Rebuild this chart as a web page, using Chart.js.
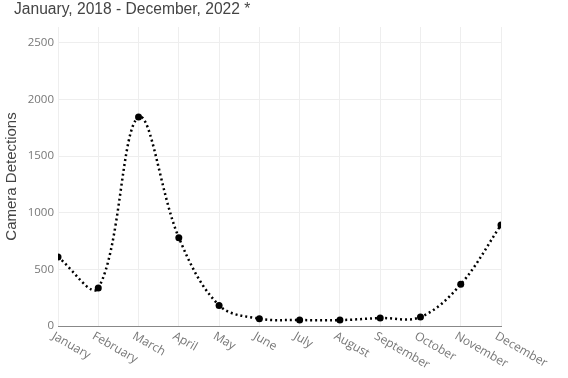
<!DOCTYPE html>
<html>
<head>
<meta charset="utf-8">
<script src="https://cdn.jsdelivr.net/npm/chart.js@4.4.1/dist/chart.umd.min.js"></script>
<style>
    html, body { margin: 0; padding: 0; background: #fff; }
    #wrap { width: 568px; height: 378px; }
</style>
</head>
<body>
<div id="wrap"><canvas id="chart_detections"></canvas></div>
<script>
const months = ['January', 'February', 'March', 'April', 'May', 'June', 'July', 'August', 'September', 'October', 'November', 'December'];
const detections = [610, 335, 1845, 780, 182, 65, 53, 52, 70, 79, 368, 892];
const yTicks = [0, 500, 1000, 1500, 2000, 2500];
const titleText = 'January, 2018 - December, 2022 *';
const yTitle = 'Camera Detections';

// draws the page title and the slanted month labels
const extraText = {
    id: 'extraText',
    afterDraw(chart) {
        const ctx = chart.ctx;
        const xScale = chart.scales.x;
        ctx.save();
        ctx.fillStyle = '#444';
        ctx.font = '15.6px "Liberation Sans", Arial, sans-serif';
        ctx.textAlign = 'left';
        ctx.textBaseline = 'middle';
        ctx.fillText(titleText, 14, 10);

        ctx.font = '12px "Open Sans", sans-serif';
        ctx.fillStyle = '#777';
        ctx.textBaseline = 'top';
        months.forEach((m, i) => {
            const x = xScale.getPixelForTick(i);
            ctx.save();
            ctx.translate(x - 2, chart.chartArea.bottom + 4);
            ctx.rotate(Math.PI / 6);
            ctx.fillText(m, 0, 0);
            ctx.restore();
        });
        ctx.restore();
    }
};

new Chart(document.getElementById('chart_detections'), {
    type: 'line',
    data: {
        labels: months,
        datasets: [{
            data: detections,
            borderColor: '#000',
            borderWidth: 2.5,
            borderDash: [2, 3],
            borderCapStyle: 'butt',
            tension: 0.36,
            pointRadius: 3.5,
            pointBackgroundColor: '#000',
            pointBorderWidth: 0,
            pointHoverRadius: 3.5,
            clip: 0
        }]
    },
    plugins: [extraText],
    options: {
        responsive: true,
        maintainAspectRatio: false,
        animation: false,
        events: [],
        layout: {
            padding: { top: 27, right: 67, left: 0, bottom: 0 }
        },
        plugins: {
            legend: { display: false },
            tooltip: { enabled: false }
        },
        scales: {
            x: {
                offset: false,
                grid: { color: '#eee', drawTicks: false },
                border: { color: '#888', width: 1 },
                ticks: { display: false },
                afterFit: (scale) => { scale.height = 52; }
            },
            y: {
                min: 0,
                max: 2640,
                afterBuildTicks: (scale) => {
                    scale.ticks = yTicks.map(v => ({ value: v }));
                },
                grid: { color: '#eee', drawTicks: false },
                border: { display: false },
                ticks: {
                    padding: 4,
                    color: '#777',
                    font: { family: '"Open Sans", sans-serif', size: 11.5 },
                    callback: (value) => String(value)
                },
                title: {
                    display: true,
                    text: yTitle,
                    color: '#444',
                    font: { family: '"Liberation Sans", Arial, sans-serif', size: 15 },
                    padding: { top: 3, bottom: 0 }
                },
                afterFit: (scale) => { scale.width = 58; }
            }
        }
    }
});
</script>
</body>
</html>
